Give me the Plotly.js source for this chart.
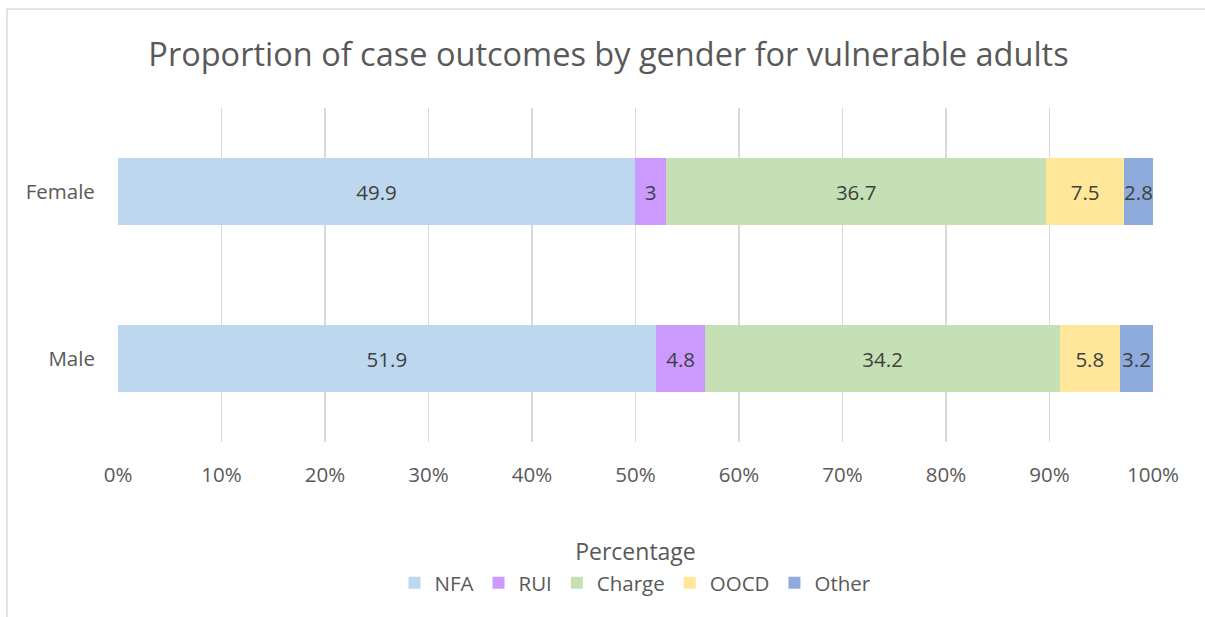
<!DOCTYPE html>
<html>
<head>
<meta charset="utf-8">
<script src="https://cdn.plot.ly/plotly-3.0.1.min.js"></script>
<style>html,body{margin:0;padding:0;background:#fff;}#chart{width:1205px;height:617px;}</style>
</head>
<body>
<div id="chart"></div>
<script>
const categories = ['Female', 'Male'];
const seriesNames = ['NFA', 'RUI', 'Charge', 'OOCD', 'Other'];
const nfa = [49.9, 51.9];
const rui = [3, 4.8];
const charge = [36.7, 34.2];
const oocd = [7.5, 5.8];
const other = [2.8, 3.2];
const xTickVals = [0, 10, 20, 30, 40, 50, 60, 70, 80, 90, 100];
const xTickText = ['0%', '10%', '20%', '30%', '40%', '50%', '60%', '70%', '80%', '90%', '100%'];

const colors = ['#BDD7EE', '#CC99FF', '#C5E0B4', '#FFE699', '#8FAADC'];
const seriesValues = [nfa, rui, charge, oocd, other];
const FONT = '"Open Sans", Lato, sans-serif';
const FS = 20.5;

const traces = seriesValues.map((vals, i) => ({
  type: 'bar',
  orientation: 'h',
  name: seriesNames[i],
  y: categories,
  x: vals,
  text: vals.map(v => String(v)),
  texttemplate: '%{text}',
  textposition: 'inside',
  insidetextanchor: 'middle',
  textangle: 0,
  constraintext: 'none',
  textfont: {family: FONT, size: FS, color: '#404040'},
  marker: {color: colors[i], line: {width: 0}},
  hoverinfo: 'skip'
}));

const layout = {
  width: 1205,
  height: 617,
  margin: {l: 118, r: 52, t: 108, b: 175},
  paper_bgcolor: '#ffffff',
  plot_bgcolor: '#ffffff',
  font: {family: FONT, color: '#595959'},
  barmode: 'stack',
  barnorm: 'percent',
  bargap: 0.6,
  uniformtext: {mode: 'show', minsize: FS},
  title: {
    text: 'Proportion of case outcomes by gender for vulnerable adults',
    font: {family: FONT, size: 32.5, color: '#595959'},
    xref: 'container', x: 0.505, xanchor: 'center',
    yref: 'container', y: 1 - 55 / 617, yanchor: 'middle'
  },
  xaxis: {
    range: [0, 100],
    tickvals: xTickVals,
    ticktext: xTickText,
    showgrid: true,
    gridcolor: '#D9D9D9',
    gridwidth: 1.5,
    zeroline: false,
    showline: false,
    ticks: 'outside',
    ticklen: 14,
    tickcolor: 'rgba(0,0,0,0)',
    tickfont: {family: FONT, size: FS, color: '#595959'},
    title: {text: 'Percentage', font: {family: FONT, size: 23, color: '#595959'}, standoff: 57},
    fixedrange: true
  },
  yaxis: {
    type: 'category',
    autorange: 'reversed',
    showgrid: false,
    zeroline: false,
    showline: false,
    ticks: 'outside',
    ticklen: 18,
    tickcolor: 'rgba(0,0,0,0)',
    tickfont: {family: FONT, size: FS, color: '#595959'},
    fixedrange: true
  },
  showlegend: true,
  legend: {
    orientation: 'h',
    traceorder: 'normal',
    x: 0.5, xanchor: 'center',
    y: (442 - 583) / 334, yanchor: 'middle',
    font: {family: FONT, size: FS, color: '#595959'},
    itemclick: false, itemdoubleclick: false
  },
  shapes: [
    {type: 'line', xref: 'paper', yref: 'paper',
     x0: (7 - 118) / 1035, x1: (1300 - 118) / 1035,
     y0: (442 - 9) / 334, y1: (442 - 9) / 334,
     line: {color: '#D9D9D9', width: 1.5}, layer: 'below'},
    {type: 'line', xref: 'paper', yref: 'paper',
     x0: (7 - 118) / 1035, x1: (7 - 118) / 1035,
     y0: (442 - 700) / 334, y1: (442 - 9) / 334,
     line: {color: '#D9D9D9', width: 1.5}, layer: 'below'}
  ]
};

Plotly.newPlot('chart', traces, layout, {displayModeBar: false, staticPlot: true});
</script>
</body>
</html>
